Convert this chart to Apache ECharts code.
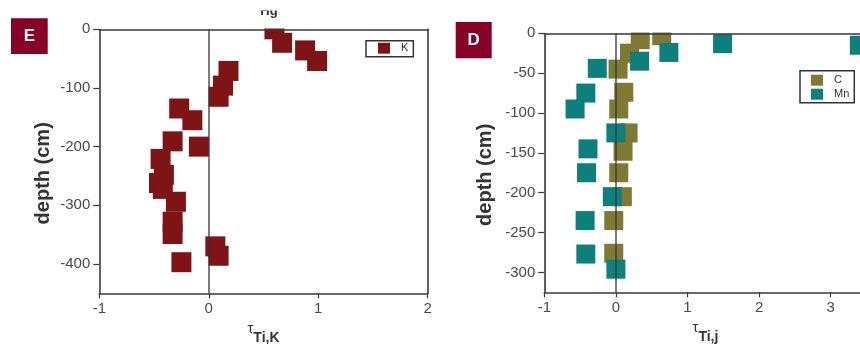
<!DOCTYPE html>
<html>
<head>
<meta charset="utf-8">
<script src="https://cdn.jsdelivr.net/npm/echarts@6/dist/echarts.min.js"></script>
<style>
  html, body { margin: 0; padding: 0; background: #fff; }
  #chart { width: 860px; height: 344px; }
</style>
</head>
<body>
<div id="chart"></div>
<script>
// Panel E: potassium tau profile against depth
const kTau   = [0.60, 0.67, 0.88, 0.99, 0.18, 0.13, 0.09, -0.27, -0.15, -0.33, -0.09, -0.44, -0.41, -0.455, -0.42, -0.30, -0.33, -0.33, 0.06, 0.09, -0.25];
const kDepth = [0, -23, -36, -54, -71, -96, -115, -135, -155, -191, -200, -221, -248, -262, -272, -294, -328, -349, -370, -386, -397];

// Panel D: carbon and manganese tau profiles against depth
const cTau   = [0.64, 0.34, 0.19, 0.03, 0.11, 0.04, 0.17, 0.10, 0.04, 0.09, -0.03, -0.03];
const cDepth = [-3, -8, -25, -45, -74, -95, -125, -148, -175, -205, -235, -276];
const mnTau   = [3.40, 1.49, 0.74, 0.33, -0.26, -0.42, -0.57, 0.00, -0.39, -0.41, -0.05, -0.43, -0.42, 0.00];
const mnDepth = [-15, -13, -24, -35, -44, -75, -95, -125, -145, -175, -205, -235, -277, -296];

// Tick labels
const depthTicksE = [0, -100, -200, -300, -400];
const depthTicksD = [0, -50, -100, -150, -200, -250, -300];
const tauTicksE = [-1, 0, 1, 2];
const tauTicksD = [-1, 0, 1, 2, 3];

const FONT = 'Liberation Sans, Arial, sans-serif';
const AXIS = '#3a3a3a';
const LABEL = '#4a4a4a';
const RED = '#7e1416';
const OLIVE = '#7f7a33';
const TEAL = '#0e7f7b';

const pairs = (xs, ys) => xs.map((x, i) => [x, ys[i]]);

const chart = echarts.init(document.getElementById('chart'), null, { renderer: 'canvas' });

function bottomAxis(grid, min, max, ticks, sub) {
  return {
    type: 'value', gridIndex: grid, position: 'bottom', min: min, max: max, interval: 1,
    axisLine: { show: true, onZero: false, lineStyle: { color: AXIS, width: 1.6 } },
    axisTick: { show: true, inside: false, length: 5, customValues: ticks, lineStyle: { color: AXIS, width: 1.2 } },
    axisLabel: { show: true, customValues: ticks, margin: 8, fontSize: 15, color: LABEL, fontFamily: FONT },
    splitLine: { show: false },
    name: '{t|τ}{s|' + sub + '}',
    nameLocation: 'middle', nameGap: 27,
    nameTextStyle: {
      rich: {
        t: { fontSize: 15, color: '#333', fontFamily: FONT, verticalAlign: 'top', lineHeight: 18 },
        s: { fontSize: 14, fontWeight: 'bold', color: '#333', fontFamily: FONT, verticalAlign: 'bottom', lineHeight: 24 }
      }
    }
  };
}
function topFrame(grid, min, max) {
  return {
    type: 'value', gridIndex: grid, position: 'top', min: min, max: max, z: 10,
    axisLine: { show: true, onZero: false, lineStyle: { color: AXIS, width: 1.6 } },
    axisTick: { show: false }, axisLabel: { show: false }, splitLine: { show: false }
  };
}
function leftAxis(grid, min, ticks, gap) {
  return {
    type: 'value', gridIndex: grid, position: 'left', min: min, max: 0,
    axisLine: { show: true, onZero: false, lineStyle: { color: AXIS, width: 1.6 } },
    axisTick: { show: true, inside: false, length: 6, customValues: ticks, lineStyle: { color: AXIS, width: 1.2 } },
    axisLabel: { show: true, customValues: ticks, margin: 9, fontSize: 15, color: LABEL, fontFamily: FONT },
    splitLine: { show: false },
    name: 'depth (cm)', nameLocation: 'middle', nameGap: gap, nameRotate: 90,
    nameTextStyle: { fontSize: 20, fontWeight: 'bold', color: '#333', fontFamily: FONT, padding: [0, 24, 0, 0] }
  };
}
function rightFrame(grid, min) {
  return {
    type: 'value', gridIndex: grid, position: 'right', min: min, max: 0, z: 10,
    axisLine: { show: true, onZero: false, lineStyle: { color: AXIS, width: 1.6 } },
    axisTick: { show: false }, axisLabel: { show: false }, splitLine: { show: false }
  };
}

// vertical reference line at tau = 0, carried by an empty series stacked above the markers
function zeroSeries(xi, yi) {
  return {
    name: 'zero', type: 'scatter', xAxisIndex: xi, yAxisIndex: yi, z: 8, data: [],
    markLine: {
      silent: true, z: 8, symbol: ['none', 'none'], label: { show: false },
      lineStyle: { color: '#333', width: 1.6, type: 'solid', opacity: 0.8 },
      data: [{ xAxis: 0 }]
    }
  };
}

const option = {
  animation: false,
  backgroundColor: '#fff',
  textStyle: { fontFamily: FONT },
  grid: [
    { left: 99.3, top: 29.3, width: 328.4, height: 264, outerBoundsMode: 'none', containLabel: false },
    { left: 544.3, top: 33.3, width: 322.2, height: 259, outerBoundsMode: 'none', containLabel: false }
  ],
  xAxis: [
    bottomAxis(0, -1, 2, tauTicksE, 'Ti,K'),
    topFrame(0, -1, 2),
    bottomAxis(1, -1, 3.5, tauTicksD, 'Ti,j'),
    topFrame(1, -1, 3.5)
  ],
  yAxis: [
    leftAxis(0, -450, depthTicksE, 46),
    rightFrame(0, -450),
    leftAxis(1, -325, depthTicksD, 49)
  ],
  legend: [
    {
      data: ['K'], left: 366, top: 40.7, orient: 'vertical', icon: 'rect',
      itemWidth: 12, itemHeight: 11, itemGap: 1,
      padding: [2, 5, 3, 12], borderColor: '#333', borderWidth: 1.5, backgroundColor: '#fff',
      textStyle: { fontSize: 11, color: '#333', fontFamily: FONT, padding: [0, 0, 0, 6] }
    },
    {
      data: ['C', 'Mn'], left: 800, top: 70.7, orient: 'vertical', icon: 'rect',
      itemWidth: 12, itemHeight: 11, itemGap: 3,
      padding: [4, 5, 3, 11], borderColor: '#333', borderWidth: 1.5, backgroundColor: '#fff',
      textStyle: { fontSize: 11, color: '#333', fontFamily: FONT, padding: [0, 0, 0, 6] }
    }
  ],
  series: [
    {
      name: 'K', type: 'scatter', xAxisIndex: 0, yAxisIndex: 0, z: 2,
      symbol: 'rect', symbolSize: 20, itemStyle: { color: RED, opacity: 1 },
      data: pairs(kTau, kDepth)
    },
    {
      name: 'C', type: 'scatter', xAxisIndex: 2, yAxisIndex: 2, z: 2,
      symbol: 'rect', symbolSize: 19, itemStyle: { color: OLIVE, opacity: 1 },
      data: pairs(cTau, cDepth)
    },
    {
      name: 'Mn', type: 'scatter', xAxisIndex: 2, yAxisIndex: 2, z: 2,
      symbol: 'rect', symbolSize: 19, itemStyle: { color: TEAL, opacity: 1 },
      data: pairs(mnTau, mnDepth)
    },
    zeroSeries(0, 0),
    zeroSeries(2, 2)
  ],
  graphic: [
    // white bands above each frame keep markers inside the plot area
    { type: 'rect', z: 9, silent: true, shape: { x: 99, y: 0, width: 330, height: 28.4 }, style: { fill: '#fff' } },
    { type: 'rect', z: 9, silent: true, shape: { x: 544, y: 0, width: 330, height: 32.4 }, style: { fill: '#fff' } },
    // axis caption from the panel above, cut by the page edge
    { type: 'text', z: 11, silent: true, x: 269, y: 18, style: { text: 'Hg', font: 'bold 13px ' + FONT, fill: '#333', align: 'center', verticalAlign: 'bottom' } },
    { type: 'rect', z: 12, silent: true, shape: { x: 250, y: 0, width: 40, height: 10.5 }, style: { fill: '#fff' } },
    // panel letters
    { type: 'rect', z: 11, silent: true, shape: { x: 11, y: 18.3, width: 36.7, height: 35.7 }, style: { fill: '#870028' } },
    { type: 'text', z: 12, silent: true, x: 29.3, y: 36.3, style: { text: 'E', font: 'bold 17px ' + FONT, fill: '#fff', align: 'center', verticalAlign: 'middle' } },
    { type: 'rect', z: 11, silent: true, shape: { x: 455.7, y: 22, width: 36, height: 36.3 }, style: { fill: '#870028' } },
    { type: 'text', z: 12, silent: true, x: 473.7, y: 40.2, style: { text: 'D', font: 'bold 17px ' + FONT, fill: '#fff', align: 'center', verticalAlign: 'middle' } }
  ]
};

chart.setOption(option);
</script>
</body>
</html>
